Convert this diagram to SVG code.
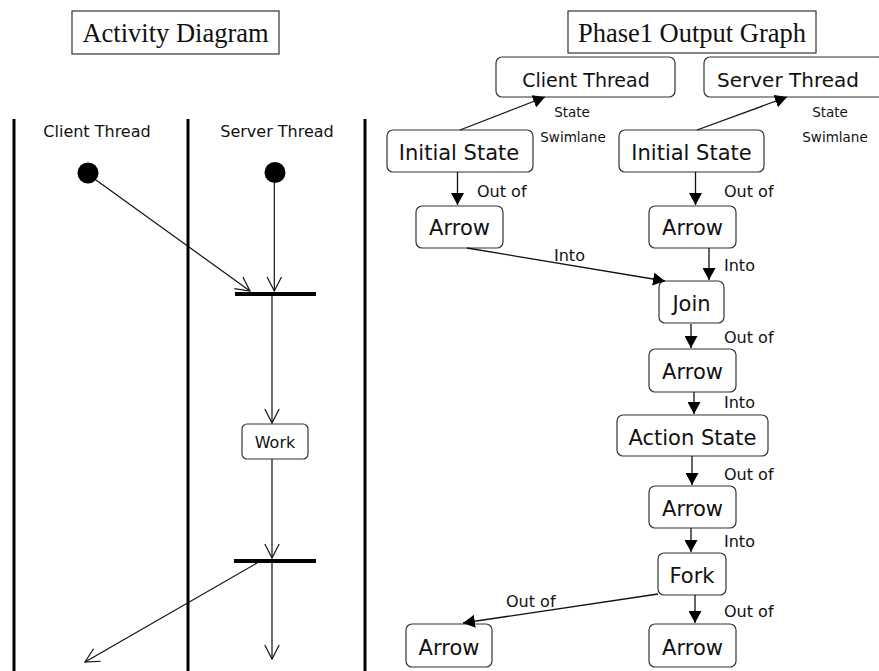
<svg xmlns="http://www.w3.org/2000/svg" width="879" height="671" viewBox="0 0 879 671">
  <style>
    .title { font-family: "Liberation Serif", "Times New Roman", serif; font-size: 26.5px; fill: #111; text-anchor: middle; }
    .tbox { fill: #fff; stroke: #333; stroke-width: 1.2; }
    .lane { stroke: #000; stroke-width: 3; }
    .lanelbl { font-family: "DejaVu Sans", Verdana, sans-serif; font-size: 16px; fill: #111; text-anchor: middle; }
    .node { fill: #fff; stroke: #333; stroke-width: 1.2; }
    .ntext { font-family: "DejaVu Sans", Verdana, sans-serif; font-size: 21px; fill: #111; text-anchor: middle; }
    .elbl { font-family: "DejaVu Sans", Verdana, sans-serif; font-size: 16px; fill: #111; }
    .slbl { font-family: "DejaVu Sans", Verdana, sans-serif; font-size: 13.5px; fill: #111; text-anchor: middle; }
    .open { stroke: #111; stroke-width: 1.2; fill: none; marker-end: url(#vhead); }
    .plain { stroke: #111; stroke-width: 1.2; fill: none; }
    .edge { stroke: #111; stroke-width: 1.3; fill: none; marker-end: url(#solid); }
    .bar { fill: #000; }
  </style>
  <defs>
    <marker id="vhead" viewBox="0 0 16 16" refX="15" refY="8" markerWidth="16" markerHeight="16" markerUnits="userSpaceOnUse" orient="auto">
      <path d="M1,0.8 L15,8 L1,15.2" fill="none" stroke="#111" stroke-width="1.2"/>
    </marker>
    <marker id="solid" viewBox="0 0 12 13" refX="12" refY="6.5" markerWidth="12" markerHeight="13" markerUnits="userSpaceOnUse" orient="auto">
      <path d="M0,0 L12,6.5 L0,13 Z" fill="#000"/>
    </marker>
  </defs>
  <rect width="879" height="671" fill="#fff"/>

  <!-- Titles -->
  <g id="title-activity">
    <rect class="tbox" x="72" y="11" width="207" height="43"/>
    <text class="title" x="175.5" y="42">Activity Diagram</text>
  </g>
  <g id="title-phase1">
    <rect class="tbox" x="568" y="11" width="248" height="42"/>
    <text class="title" x="692" y="42">Phase1 Output Graph</text>
  </g>

  <!-- Swimlane dividers -->
  <g id="swimlanes">
    <line class="lane" x1="14" y1="119" x2="14" y2="671"/>
    <line class="lane" x1="188" y1="119" x2="188" y2="671"/>
    <line class="lane" x1="365" y1="119" x2="365" y2="671"/>
    <text class="lanelbl" x="97" y="137">Client Thread</text>
    <text class="lanelbl" x="277" y="137">Server Thread</text>
  </g>

  <!-- Activity diagram nodes -->
  <g id="ad-start-client"><circle cx="88" cy="173" r="10.5" fill="#000"/></g>
  <g id="ad-start-server"><circle cx="275" cy="172.5" r="10.5" fill="#000"/></g>
  <g id="ad-join"><rect class="bar" x="235" y="292" width="81" height="4"/></g>
  <g id="ad-work">
    <rect class="node" x="242" y="424" width="66" height="35" rx="5"/>
    <text class="lanelbl" x="275" y="448">Work</text>
  </g>
  <g id="ad-fork"><rect class="bar" x="234" y="559" width="82" height="4"/></g>

  <!-- Phase1 output graph nodes -->
  <g id="g-client-thread">
    <rect class="node" x="496" y="57" width="179" height="40" rx="6"/>
    <text class="ntext" x="586" y="87" style="font-size:19px">Client Thread</text>
  </g>
  <g id="g-server-thread">
    <rect class="node" x="704" y="57" width="180" height="40" rx="6"/>
    <text class="ntext" x="788" y="87" style="font-size:20px">Server Thread</text>
  </g>
  <g id="g-initial-1">
    <rect class="node" x="387" y="130" width="146" height="42" rx="6"/>
    <text class="ntext" x="459" y="160">Initial State</text>
  </g>
  <g id="g-initial-2">
    <rect class="node" x="619" y="130" width="145" height="42" rx="6"/>
    <text class="ntext" x="691.5" y="160">Initial State</text>
  </g>
  <g id="g-arrow-1">
    <rect class="node" x="416" y="206" width="87" height="42" rx="6"/>
    <text class="ntext" x="459.5" y="235">Arrow</text>
  </g>
  <g id="g-arrow-2">
    <rect class="node" x="649" y="206" width="87" height="42" rx="6"/>
    <text class="ntext" x="692.5" y="235">Arrow</text>
  </g>
  <g id="g-join">
    <rect class="node" x="659" y="281" width="65" height="42" rx="6"/>
    <text class="ntext" x="691.5" y="311">Join</text>
  </g>
  <g id="g-arrow-3">
    <rect class="node" x="649" y="349" width="87" height="43" rx="6"/>
    <text class="ntext" x="692.5" y="379">Arrow</text>
  </g>
  <g id="g-action-state">
    <rect class="node" x="617" y="415" width="151" height="41" rx="6"/>
    <text class="ntext" x="692.5" y="445">Action State</text>
  </g>
  <g id="g-arrow-4">
    <rect class="node" x="649" y="486" width="87" height="42" rx="6"/>
    <text class="ntext" x="692.5" y="516">Arrow</text>
  </g>
  <g id="g-fork">
    <rect class="node" x="658" y="553" width="68" height="42" rx="6"/>
    <text class="ntext" x="692" y="583">Fork</text>
  </g>
  <g id="g-arrow-5">
    <rect class="node" x="406" y="624" width="86" height="43" rx="6"/>
    <text class="ntext" x="449" y="655">Arrow</text>
  </g>
  <g id="g-arrow-6">
    <rect class="node" x="649" y="624" width="87" height="43" rx="6"/>
    <text class="ntext" x="692.5" y="655">Arrow</text>
  </g>

  <!-- Connectors -->
  <g id="connectors">
    <!-- activity diagram flows -->
    <line class="open" x1="96" y1="180" x2="250" y2="291"/>
    <line class="open" x1="274.3" y1="183" x2="274.3" y2="291"/>
    <line class="open" x1="272" y1="296" x2="272" y2="423"/>
    <line class="open" x1="272" y1="459" x2="272" y2="558"/>
    <line class="open" x1="272" y1="563" x2="272" y2="659"/>
    <line class="open" x1="257" y1="563" x2="85" y2="662"/>

    <!-- graph edges -->
    <line class="edge" x1="460" y1="130" x2="545" y2="97"/>
    <line class="edge" x1="697" y1="130" x2="787" y2="97"/>
    <line class="edge" x1="457.5" y1="172" x2="457.5" y2="205"/>
    <line class="edge" x1="695.5" y1="172" x2="695.5" y2="205"/>
    <line class="edge" x1="467" y1="248" x2="665" y2="281"/>
    <line class="edge" x1="709" y1="248" x2="709" y2="280"/>
    <line class="edge" x1="691" y1="324" x2="691" y2="348"/>
    <line class="edge" x1="694" y1="392" x2="694" y2="414"/>
    <line class="edge" x1="692" y1="456" x2="692" y2="485"/>
    <line class="edge" x1="691" y1="528" x2="691" y2="552"/>
    <line class="edge" x1="658" y1="594" x2="463" y2="623"/>
    <line class="edge" x1="695" y1="595" x2="695" y2="623"/>

    <!-- edge labels -->
    <text class="slbl" x="572" y="117">State</text>
    <text class="slbl" x="573" y="142">Swimlane</text>
    <text class="slbl" x="830" y="117">State</text>
    <text class="slbl" x="835" y="142">Swimlane</text>
    <text class="elbl" x="477" y="197">Out of</text>
    <text class="elbl" x="724" y="197">Out of</text>
    <text class="elbl" x="554" y="261">Into</text>
    <text class="elbl" x="724" y="271">Into</text>
    <text class="elbl" x="724" y="343">Out of</text>
    <text class="elbl" x="724" y="408">Into</text>
    <text class="elbl" x="724" y="480">Out of</text>
    <text class="elbl" x="724" y="547">Into</text>
    <text class="elbl" x="506" y="607">Out of</text>
    <text class="elbl" x="724" y="617">Out of</text>
  </g>
</svg>
